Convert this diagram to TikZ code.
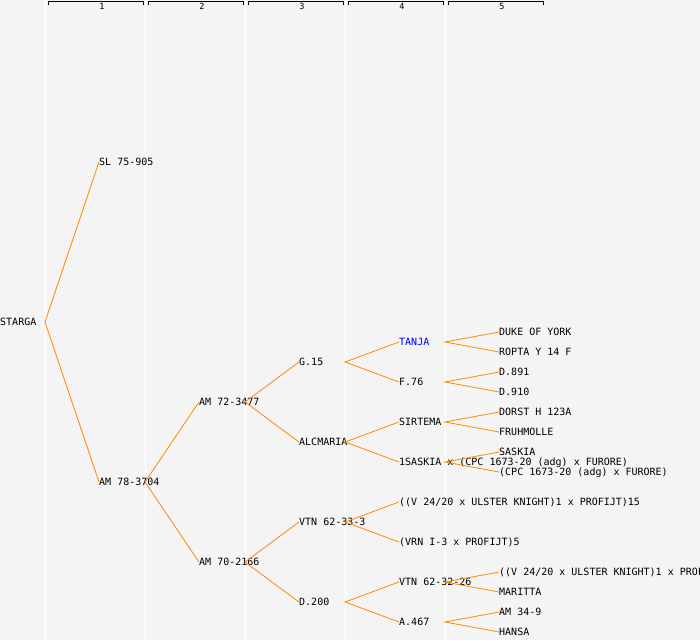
\documentclass[tikz,border=0pt]{standalone}
\usepackage{fontspec}
\setmonofont{DejaVu Sans Mono}
\usetikzlibrary{positioning}
\definecolor{bgfill}{RGB}{244,244,244}
\definecolor{edgeorange}{RGB}{255,136,0}
\definecolor{tanjablue}{RGB}{0,0,255}
\tikzset{
  plant/.style={anchor=west,inner sep=0pt,font=\ttfamily\fontsize{10}{12}\selectfont,text height=7pt,text depth=0pt},
  link/.style={draw=edgeorange,line width=0.8pt},
  gen/.style={inner sep=0pt,font=\ttfamily\fontsize{8.5}{9}\selectfont}
}
\begin{document}
\begin{tikzpicture}[x=1pt,y=-1pt]

\fill [bgfill] (0,0) rectangle (700,640);
\useasboundingbox (0,0) rectangle (700,640);
\clip (0,0) rectangle (700,640);

% Column separators
\coordinate (c1) at (45,0);
\coordinate (c2) at (145,0);
\coordinate (c3) at (245,0);
\coordinate (c4) at (345,0);
\coordinate (c5) at (445,0);
\foreach \c in {c1,c2,c3,c4,c5}
  \draw [white,line width=1pt] (\c) -- (\c |- 0,640);

% Generation headers
\foreach \i in {1,...,5} {
  \draw [black,line width=1pt] (\i*100-52,4.5) -- ++(0,-3) -- ++(95,0) -- ++(0,3);
  \node [gen] at (\i*100+2,6.5) (g\i) {\i};
}

% First column
\node [plant] at (0,322) (starga) {STARGA};

% Second column
\node [plant] at (99,162) (sl) {SL 75-905};
\node [plant] at (99,482) (am78) {AM 78-3704};

% Third column
\node [plant] at (199,402) (am72) {AM 72-3477};
\node [plant] at (199,562) (am70) {AM 70-2166};

% Fourth column
\node [plant] at (299,362) (g15) {G.15};
\node [plant] at (299,442) (alcmaria) {ALCMARIA};
\node [plant] at (299,522) (vtn33) {VTN 62-33-3};
\node [plant] at (299,602) (d200) {D.200};

% Fifth column
\node [plant,text=tanjablue] at (399,342) (tanja) {TANJA};
\node [plant] at (399,382) (f76) {F.76};
\node [plant] at (399,422) (sirtema) {SIRTEMA};
\node [plant] at (399,462) (saskiax) {1SASKIA x (CPC 1673-20 (adg) x FURORE)};
\node [plant] at (399,502) (vknight15) {((V 24/20 x ULSTER KNIGHT)1 x PROFIJT)15};
\node [plant] at (399,542) (vrn5) {(VRN I-3 x PROFIJT)5};
\node [plant] at (399,582) (vtn26) {VTN 62-32-26};
\node [plant] at (399,622) (a467) {A.467};

% Sixth column
\node [plant] at (499,332) (duke) {DUKE OF YORK};
\node [plant] at (499,352) (ropta) {ROPTA Y 14 F};
\node [plant] at (499,372) (d891) {D.891};
\node [plant] at (499,392) (d910) {D.910};
\node [plant] at (499,412) (dorst) {DORST H 123A};
\node [plant] at (499,432) (fruhmolle) {FRUHMOLLE};
\node [plant] at (499,452) (saskia) {SASKIA};
\node [plant] at (499,472) (cpc) {(CPC 1673-20 (adg) x FURORE)};
\node [plant] at (499,572) (vknight) {((V 24/20 x ULSTER KNIGHT)1 x PROFIJT)15};
\node [plant] at (499,592) (maritta) {MARITTA};
\node [plant] at (499,612) (am349) {AM 34-9};
\node [plant] at (499,632) (hansa) {HANSA};

% Lines from each plant to its parents
\draw [link] (sl.west) -- (starga.west -| c1) -- (am78.west);
\draw [link] (am72.west) -- (am78.west -| c2) -- (am70.west);
\draw [link] (g15.west) -- (am72.west -| c3) -- (alcmaria.west);
\draw [link] (vtn33.west) -- (am70.west -| c3) -- (d200.west);
\draw [link] (tanja.west) -- (g15.west -| c4) -- (f76.west);
\draw [link] (sirtema.west) -- (alcmaria.west -| c4) -- (saskiax.west);
\draw [link] (vknight15.west) -- (vtn33.west -| c4) -- (vrn5.west);
\draw [link] (vtn26.west) -- (d200.west -| c4) -- (a467.west);
\draw [link] (duke.west) -- (tanja.west -| c5) -- (ropta.west);
\draw [link] (d891.west) -- (f76.west -| c5) -- (d910.west);
\draw [link] (dorst.west) -- (sirtema.west -| c5) -- (fruhmolle.west);
\draw [link] (saskia.west) -- (saskiax.west -| c5) -- (cpc.west);
\draw [link] (vknight.west) -- (vtn26.west -| c5) -- (maritta.west);
\draw [link] (am349.west) -- (a467.west -| c5) -- (hansa.west);

\end{tikzpicture}
\end{document}
